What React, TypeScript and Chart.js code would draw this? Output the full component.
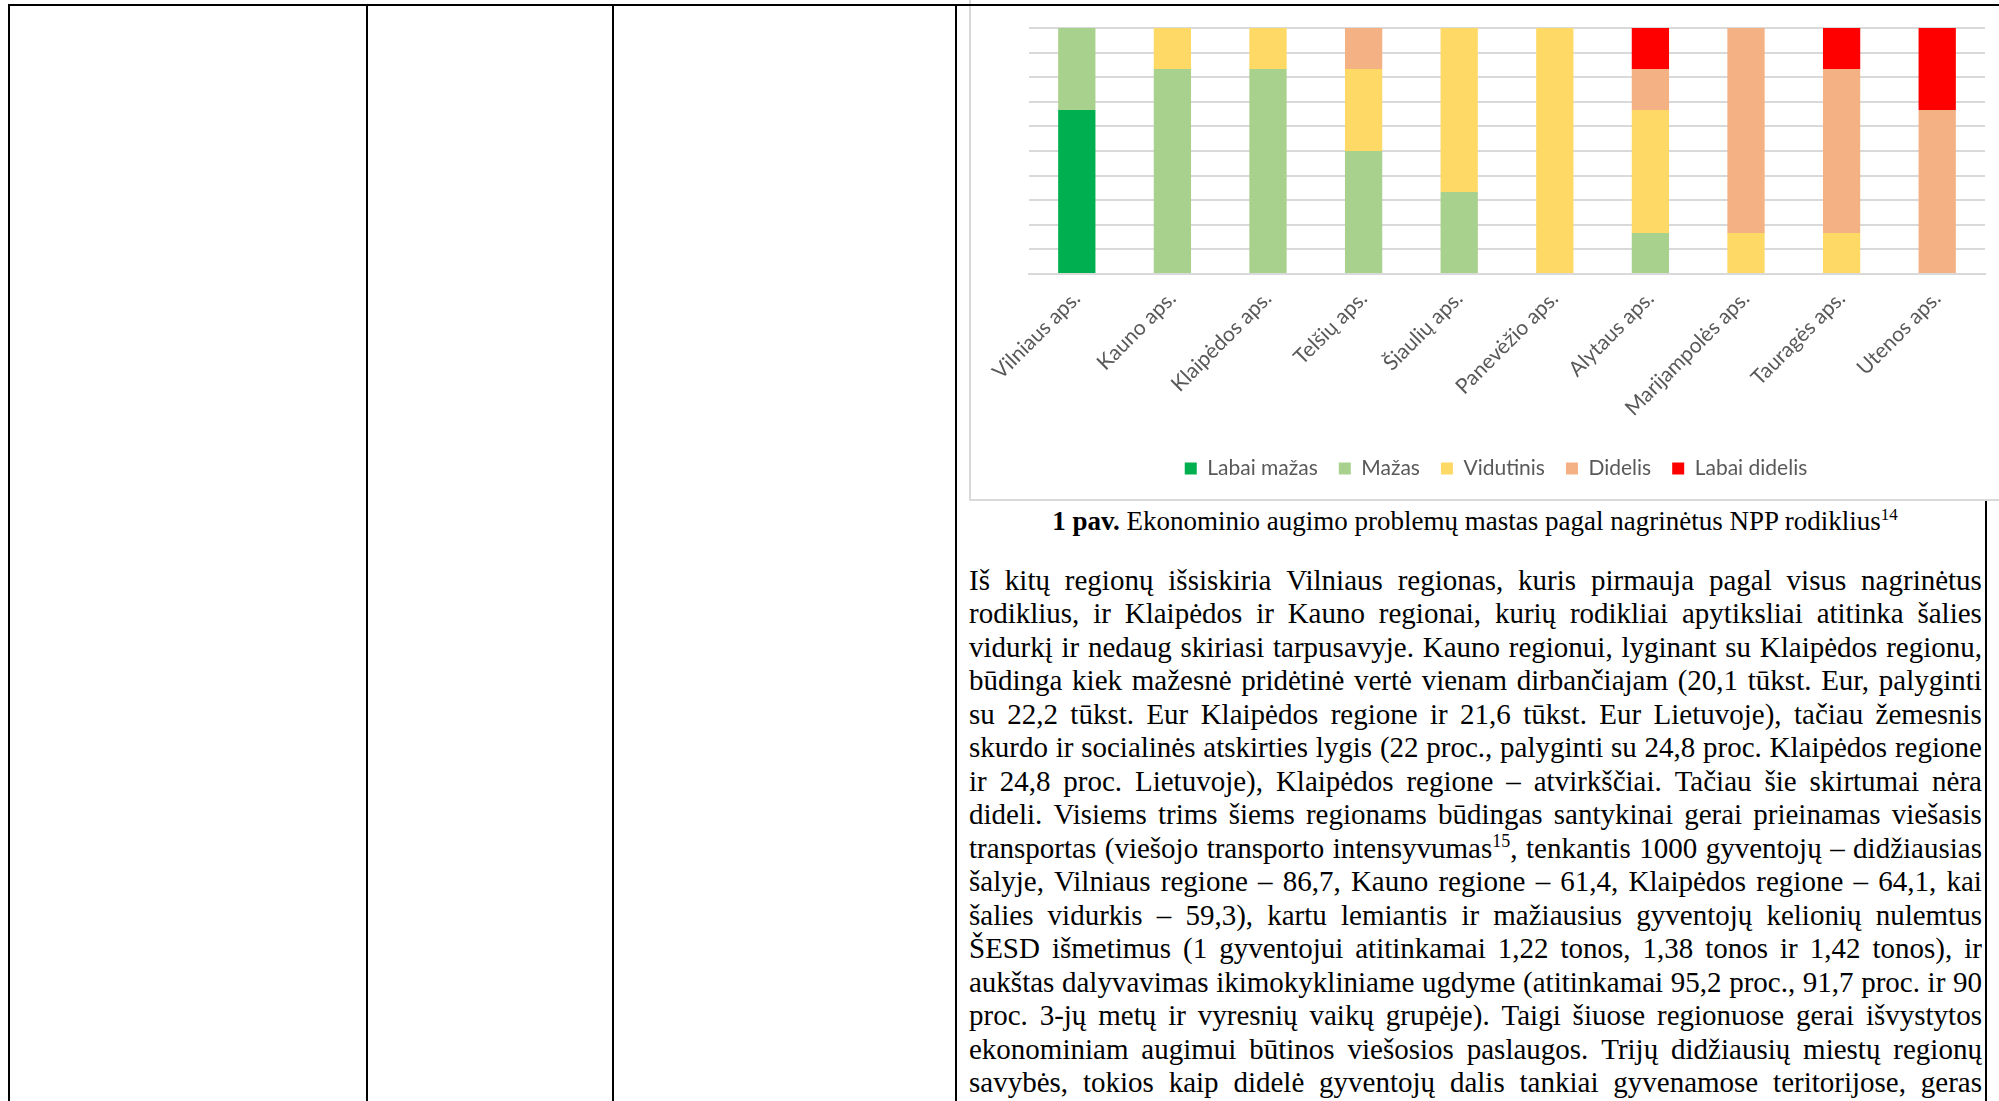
import React, { useEffect, useRef } from 'react';
import { Chart, registerables } from 'chart.js';

Chart.register(...registerables);

// ---- chart data (share of indicators, %) ----
const categories = [
  'Vilniaus aps.',
  'Kauno aps.',
  'Klaipėdos aps.',
  'Telšių aps.',
  'Šiaulių aps.',
  'Panevėžio aps.',
  'Alytaus aps.',
  'Marijampolės aps.',
  'Tauragės aps.',
  'Utenos aps.',
];
const seriesNames = ['Labai mažas', 'Mažas', 'Vidutinis', 'Didelis', 'Labai didelis'];
const labaiMazas = [66.67, 0, 0, 0, 0, 0, 0, 0, 0, 0];
const mazas = [33.33, 83.33, 83.33, 50, 33.33, 0, 16.67, 0, 0, 0];
const vidutinis = [0, 16.67, 16.67, 33.33, 66.67, 100, 50, 16.67, 16.67, 0];
const didelis = [0, 0, 0, 16.67, 0, 0, 16.67, 83.33, 66.66, 66.67];
const labaiDidelis = [0, 0, 0, 0, 0, 0, 16.66, 0, 16.67, 33.33];
const seriesColors = ['#00B050', '#A9D18E', '#FFD966', '#F4B183', '#FF0000'];
const yMin = 0;
const yMax = 100;
const yStep = 10;

// ---- document text ----
const captionBold = '1 pav.';
const captionText = ' Ekonominio augimo problemų mastas pagal nagrinėtus NPP rodiklius';
const captionNote = '14';
const bodyLines = [
  'Iš kitų regionų išsiskiria Vilniaus regionas, kuris pirmauja pagal visus nagrinėtus',
  'rodiklius, ir Klaipėdos ir Kauno regionai, kurių rodikliai apytiksliai atitinka šalies',
  'vidurkį ir nedaug skiriasi tarpusavyje. Kauno regionui, lyginant su Klaipėdos regionu,',
  'būdinga kiek mažesnė pridėtinė vertė vienam dirbančiajam (20,1 tūkst. Eur, palyginti',
  'su 22,2 tūkst. Eur Klaipėdos regione ir 21,6 tūkst. Eur Lietuvoje), tačiau žemesnis',
  'skurdo ir socialinės atskirties lygis (22 proc., palyginti su 24,8 proc. Klaipėdos regione',
  'ir 24,8 proc. Lietuvoje), Klaipėdos regione – atvirkščiai. Tačiau šie skirtumai nėra',
  'dideli. Visiems trims šiems regionams būdingas santykinai gerai prieinamas viešasis',
  'transportas (viešojo transporto intensyvumas^15, tenkantis 1000 gyventojų – didžiausias',
  'šalyje, Vilniaus regione – 86,7, Kauno regione – 61,4, Klaipėdos regione – 64,1, kai',
  'šalies vidurkis – 59,3), kartu lemiantis ir mažiausius gyventojų kelionių nulemtus',
  'ŠESD išmetimus (1 gyventojui atitinkamai 1,22 tonos, 1,38 tonos ir 1,42 tonos), ir',
  'aukštas dalyvavimas ikimokykliniame ugdyme (atitinkamai 95,2 proc., 91,7 proc. ir 90',
  'proc. 3-jų metų ir vyresnių vaikų grupėje). Taigi šiuose regionuose gerai išvystytos',
  'ekonominiam augimui būtinos viešosios paslaugos. Trijų didžiausių miestų regionų',
  'savybės, tokios kaip didelė gyventojų dalis tankiai gyvenamose teritorijose, geras',
];

const seriesData = [labaiMazas, mazas, vidutinis, didelis, labaiDidelis];

function Word({ w }: { w: string }) {
  const m = w.match(/^(.*)\^(\d+)(.*)$/);
  if (!m) return <span>{w}</span>;
  return (
    <span>
      {m[1]}
      <sup style={{ fontSize: '18px', lineHeight: 0, verticalAlign: 'baseline', position: 'relative', top: '-11px' }}>{m[2]}</sup>
      {m[3]}
    </span>
  );
}

export default function App() {
  const canvasRef = useRef<HTMLCanvasElement>(null);

  useEffect(() => {
    document.body.style.margin = '0';
    const canvas = canvasRef.current;
    if (!canvas) return;
    const font = { family: 'Lato', size: 21 };
    const chart = new Chart(canvas, {
      type: 'bar',
      data: {
        labels: categories,
        datasets: seriesNames.map((name, i) => ({
          label: name,
          data: seriesData[i],
          backgroundColor: seriesColors[i],
          borderWidth: 0,
          barPercentage: 0.39,
          categoryPercentage: 1,
        })),
      },
      options: {
        responsive: false,
        animation: false,
        devicePixelRatio: 1,
        layout: { padding: { left: 58, right: 14, top: 28, bottom: 9 } },
        scales: {
          x: {
            stacked: true,
            grid: { display: false, drawTicks: false },
            border: { color: '#d9d9d9', width: 2 },
            ticks: {
              minRotation: 45,
              maxRotation: 45,
              autoSkip: false,
              color: '#595959',
              font,
              padding: 12,
            },
            afterFit: (scale: any) => {
              scale.height = 163;
            },
          },
          y: {
            stacked: true,
            min: yMin,
            max: yMax,
            ticks: { display: false, stepSize: yStep },
            grid: { color: '#d9d9d9', lineWidth: 2, drawTicks: false },
            border: { display: false },
            afterFit: (scale: any) => {
              scale.width = 22;
            },
          },
        },
        plugins: {
          legend: {
            position: 'bottom',
            labels: {
              boxWidth: 12,
              boxHeight: 12,
              padding: 21,
              color: '#595959',
              font,
            },
          },
          tooltip: { enabled: false },
        },
      } as any,
    });
    return () => chart.destroy();
  }, []);

  const line = (left: number, top: number, width: number, height: number, color = '#000') => (
    <div style={{ position: 'absolute', left, top, width, height, background: color }} />
  );

  return (
    <div
      style={{
        position: 'fixed',
        left: 0,
        top: 0,
        width: 1999,
        height: 1101,
        overflow: 'hidden',
        background: '#fff',
      }}
    >
      {line(8, 4, 2, 1097)}
      {line(366, 4, 2, 1097)}
      {line(612, 4, 2, 1097)}
      {line(955, 4, 2, 1097)}
      {line(1985, 500, 2, 601)}

      <div
        style={{
          position: 'absolute',
          left: 969,
          top: -10,
          width: 1100,
          height: 511,
          border: '2px solid #d9d9d9',
          boxSizing: 'border-box',
          background: '#fff',
        }}
      />
      <canvas
        ref={canvasRef}
        width={1050}
        height={498}
        style={{ position: 'absolute', left: 949, top: 0, width: 1050, height: 498 }}
      />
      {line(8, 4, 1991, 2)}

      <div
        style={{
          position: 'absolute',
          left: 955,
          top: 506,
          width: 1040,
          textAlign: 'center',
          fontFamily: '"Liberation Serif", "Times New Roman", serif',
          fontSize: '27px',
          lineHeight: '30px',
          color: '#000',
          whiteSpace: 'nowrap',
        }}
      >
        <b>{captionBold}</b>
        {captionText}
        <sup style={{ fontSize: '17px', lineHeight: 0, verticalAlign: 'baseline', position: 'relative', top: '-10px' }}>
          {captionNote}
        </sup>
      </div>

      <div
        style={{
          position: 'absolute',
          left: 969,
          top: 563.5,
          width: 1013,
          fontFamily: '"Liberation Serif", "Times New Roman", serif',
          fontSize: '29px',
          lineHeight: '33.5px',
          color: '#000',
        }}
      >
        {bodyLines.map((l, i) => (
          <div key={i} style={{ display: 'flex', justifyContent: 'space-between', height: '33.5px', whiteSpace: 'nowrap' }}>
            {l.split(' ').map((w, j) => (
              <Word key={j} w={w} />
            ))}
          </div>
        ))}
      </div>
    </div>
  );
}
